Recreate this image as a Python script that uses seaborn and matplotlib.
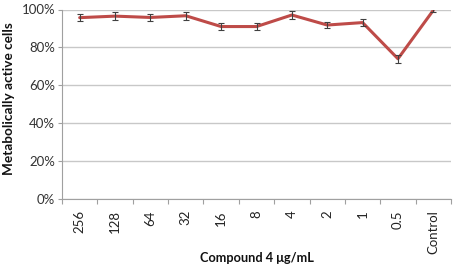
import matplotlib
matplotlib.use("Agg")
import matplotlib.pyplot as plt
import seaborn as sns
import numpy as np
import pandas as pd
from matplotlib.ticker import FixedLocator, PercentFormatter

categories = ["256", "128", "64", "32", "16", "8", "4", "2", "1", "0.5", "Control"]
values = [95.7, 96.5, 95.8, 96.7, 91.0, 91.0, 97.1, 91.8, 93.1, 74.0, 99.6]
errors = [2.0, 2.0, 2.0, 2.0, 2.0, 2.0, 2.0, 1.8, 2.0, 2.0, 1.0]
y_ticks = [0, 20, 40, 60, 80, 100]

sns.set_theme(style="white")
plt.rcParams['font.family'] = ['Lato', 'DejaVu Sans']

df = pd.DataFrame({"conc": categories, "val": values, "err": errors})

fig = plt.figure(figsize=(4.54, 2.69), dpi=100)
ax = fig.add_axes([62/454, 1 - 199/269, (451-62)/454, (199-9.5)/269])

sns.lineplot(data=df, x="conc", y="val", sort=False, color="#BE4B48", linewidth=2.2, ax=ax, zorder=3)
ax.errorbar(np.arange(len(categories)), df["val"], yerr=df["err"], fmt="none",
            ecolor="#404040", elinewidth=0.8, capsize=2.2, capthick=0.8, zorder=4)

ax.set_xlim(-0.5, len(categories) - 0.5)
ax.set_ylim(0, 100)
ax.set_yticks(y_ticks)
ax.yaxis.set_major_formatter(PercentFormatter(decimals=0))
ax.grid(axis="y", color="#C8C8C8", linewidth=1.0)
ax.set_axisbelow(True)

ax.set_xticks(np.arange(len(categories)))
ax.set_xticklabels(categories, rotation=90, fontsize=9.5, color="#222222")
ax.xaxis.set_minor_locator(FixedLocator(np.arange(-0.5, len(categories), 1.0)))
ax.tick_params(axis="x", which="major", length=0, pad=8)
ax.tick_params(axis="x", which="minor", length=3.5, color="#A0A0A0", width=0.8, bottom=True)
ax.tick_params(axis="y", which="major", length=3, color="#A0A0A0", width=0.8, left=True,
               labelsize=9.5, labelcolor="#333333", pad=2)

for s in ["top", "right"]:
    ax.spines[s].set_visible(False)
for s in ["left", "bottom"]:
    ax.spines[s].set_color("#A0A0A0")
    ax.spines[s].set_linewidth(0.8)

ax.set_xlabel("Compound 4 μg/mL", fontsize=9.2, fontweight="bold", color="#111111")
ax.xaxis.set_label_coords(0.5, -0.28)
ax.set_ylabel("Metabolically active cells", fontsize=9.8, fontweight="bold", color="#111111")
ax.yaxis.set_label_coords(-0.122, 0.528)

fig.savefig("out.png", dpi=100)
